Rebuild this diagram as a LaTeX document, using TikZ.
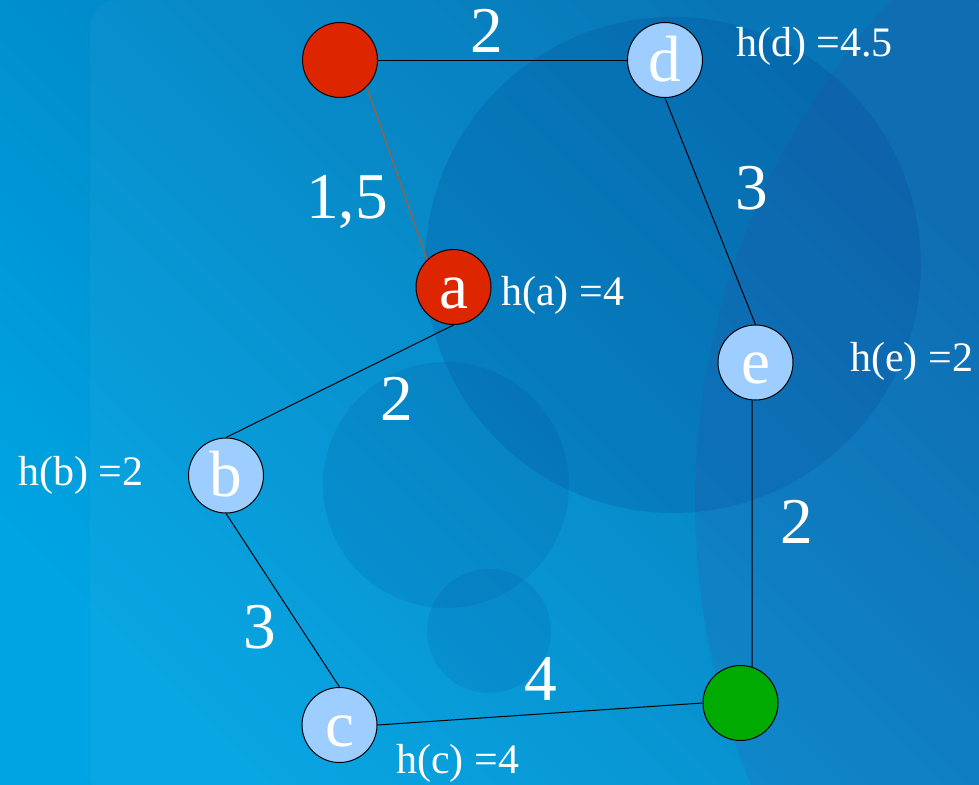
\documentclass[tikz,border=0pt]{standalone}
\usepackage{fontspec}
\setmainfont{Liberation Serif}
\definecolor{bgLight}{HTML}{00A4E2}
\definecolor{bgDark}{HTML}{0072B4}
\definecolor{blobA}{HTML}{003C8C}
\definecolor{blobB}{HTML}{3A3FA0}
\definecolor{redNode}{HTML}{DD2600}
\definecolor{blueNode}{HTML}{9ECEFF}
\definecolor{greenNode}{HTML}{00AA00}
\definecolor{brownEdge}{HTML}{B85A1E}
\begin{document}
\begin{tikzpicture}[x=0.75pt,y=-0.75pt,
  vert/.style={circle, draw=black, line width=0.75pt, minimum size=56.25pt,
    inner sep=0pt, text=white, font=\fontsize{49}{50}\selectfont,
    text height=31.5pt, text depth=0pt},
  edge/.style={draw=black, line width=0.75pt},
  wlab/.style={text=white, inner sep=0pt, anchor=base, font=\fontsize{49}{50}\selectfont},
  hlab/.style={text=white, inner sep=0pt, anchor=base west, font=\fontsize{31.5}{33}\selectfont}]
\useasboundingbox (0,0) rectangle (979,785);
\clip (0,0) rectangle (979,785);
% background
\shade[shading=axis, bottom color=bgLight, top color=bgDark, shading angle=-45] (0,0) rectangle (979,785);
\fill[white, opacity=0.03, rounded corners=20] (90,0) rectangle (1000,800);
\fill[blobA, opacity=0.18] (673,265) circle (248);
\fill[blobA, opacity=0.12] (446,485) circle (123);
\fill[blobA, opacity=0.12] (489,631) circle (62);
\fill[blobB, opacity=0.14] (1435,502) circle (740);
% vertices
\node[vert, fill=redNode] (s) at (340,60) {};
\node[vert, fill=blueNode] (d) at (665,60) {d};
\node[vert, fill=redNode] (a) at (453.5,287) {a};
\node[vert, fill=blueNode] (e) at (755.5,362.5) {e};
\node[vert, fill=blueNode] (b) at (226,475.5) {b};
\node[vert, fill=blueNode] (c) at (339.5,725) {c};
\node[vert, fill=greenNode] (g) at (740.5,703) {};
% edges
\draw[edge] (s.east) -- (d.west);
\draw[line width=0.75pt, brownEdge] (s.-45) -- (a.134);
\draw[edge] (d.south) -- (e.north);
\draw[edge] (a.south) -- (b.north);
\draw[edge] (b.south) -- (c.north);
\draw[edge] (c.east) -- (g.west);
\draw[edge] (e.-95) -- (g.72);
% weights
\node[wlab] (w1) at (487,52) {2};
\node[wlab] (w2) at (347,218) {1,5};
\node[wlab] (w3) at (752,209) {3};
\node[wlab] (w4) at (397,420) {2};
\node[wlab] (w5) at (797,543) {2};
\node[wlab] (w6) at (260,648) {3};
\node[wlab] (w7) at (541,700) {4};
% heuristics
\node[hlab] (ha) at (501,305) {h(a) =4};
\node[hlab] (hd) at (736,56) {h(d) =4.5};
\node[hlab] (he) at (850,371) {h(e) =2};
\node[hlab] (hb) at (18,485) {h(b) =2};
\node[hlab] (hc) at (396,773) {h(c) =4};
\end{tikzpicture}
\end{document}
